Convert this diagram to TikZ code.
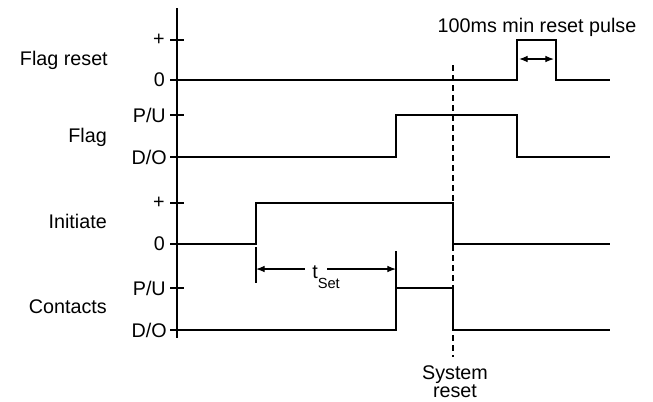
\documentclass[tikz,border=0pt]{standalone}
\usepackage{fontspec}
\setmainfont{Liberation Sans}
\usetikzlibrary{arrows.meta}

\begin{document}
\begin{tikzpicture}[
            x=0.75pt, y=-0.75pt,
            >={Latex[length=6.5pt, width=5pt]},
            axis line/.style={line width=2.2pt},
            level tick/.style={line width=1.5pt},
            signal/.style={line width=0.8pt},
            reset line/.style={line width=0.8pt, dash pattern=on 4.5pt off 3pt},
            dim arrow/.style={line width=0.9pt},
            trace label/.style={font=\fontsize{14.8}{17}\selectfont, anchor=base east, inner sep=0pt},
            level label/.style={font=\fontsize{14.8}{17}\selectfont, anchor=east, inner sep=0pt},
            note label/.style={font=\fontsize{14.8}{13.5}\selectfont, align=center, inner sep=0pt},
        ]
        \useasboundingbox (0,0) rectangle (653,401);

        \def\xAxis{177}
        \def\tInit{256}
        \def\tSet{396}
        \def\tRst{453}
        \def\tPulse{517}
        \def\tPulseEnd{556}
        \def\tEnd{610}

        % axis and levels
        \draw[axis line] (\xAxis,8) -- (\xAxis,338);
        \foreach \lv in {40,80,115,157,203,244,288,330}
            \draw[level tick] (170,\lv) -- (184,\lv);

        \node[level label] (fr plus) at (165,40) {+};
        \node[level label] (fr zero) at (165,80) {0};
        \node[level label] (fl pu) at (166,115) {P/U};
        \node[level label] (fl do) at (167,157) {D/O};
        \node[level label] (in plus) at (165,203) {+};
        \node[level label] (in zero) at (165,244) {0};
        \node[level label] (ct pu) at (166,288) {P/U};
        \node[level label] (ct do) at (167,330) {D/O};

        \node[trace label] (flag reset) at (108,65) {Flag reset};
        \node[trace label] (flag) at (107,142) {Flag};
        \node[trace label] (initiate) at (107,228) {Initiate};
        \node[trace label] (contacts) at (107,313) {Contacts};

        % signals
        \draw[signal] (\xAxis,80) -- (\tPulse,80) -- (\tPulse,40) -- (\tPulseEnd,40)
            -- (\tPulseEnd,80) -- (\tEnd,80);
        \draw[signal] (\xAxis,157) -- (\tSet,157) -- (\tSet,115) -- (\tPulse,115)
            -- (\tPulse,157) -- (\tEnd,157);
        \draw[signal] (\xAxis,244) -- (\tInit,244) -- (\tInit,203) -- (\tRst,203)
            -- (\tRst,244) -- (\tEnd,244);
        \draw[signal] (\xAxis,330) -- (\tSet,330) -- (\tSet,288) -- (\tRst,288)
            -- (\tRst,330) -- (\tEnd,330);

        % system reset
        \node[note label, anchor=north] (sys reset) at (455,365) {System\\reset};
        \coordinate (reset top) at (\tRst,65);
        \draw[reset line] (reset top) -- ([yshift=6pt]sys reset.north -| reset top);

        % t_Set
        \draw[signal] (\tInit,247) -- (\tInit,283);
        \draw[signal] (\tSet,251) -- (\tSet,288);
        \node[font=\fontsize{14.8}{17}\selectfont, anchor=base west, inner sep=0pt] (tset)
            at (312,278) {t\raisebox{-8pt}{\fontsize{11}{12}\selectfont Set}};
        \coordinate (tset l) at (\tInit,269);
        \coordinate (tset gap l) at (305,269);
        \coordinate (tset gap r) at (327,269);
        \coordinate (tset r) at (\tSet,269);
        \draw[dim arrow, <-] (tset l) -- (tset gap l);
        \draw[dim arrow, ->] (tset gap r) -- (tset r);

        % reset pulse
        \node[font=\fontsize{14.8}{17}\selectfont, anchor=base, inner sep=0pt] (pulse note)
            at (537,32) {100ms min reset pulse};
        \coordinate (pulse l) at (519,59);
        \coordinate (pulse r) at (554,59);
        \draw[dim arrow, <->] (pulse l) -- (pulse r);
\end{tikzpicture}
\end{document}
